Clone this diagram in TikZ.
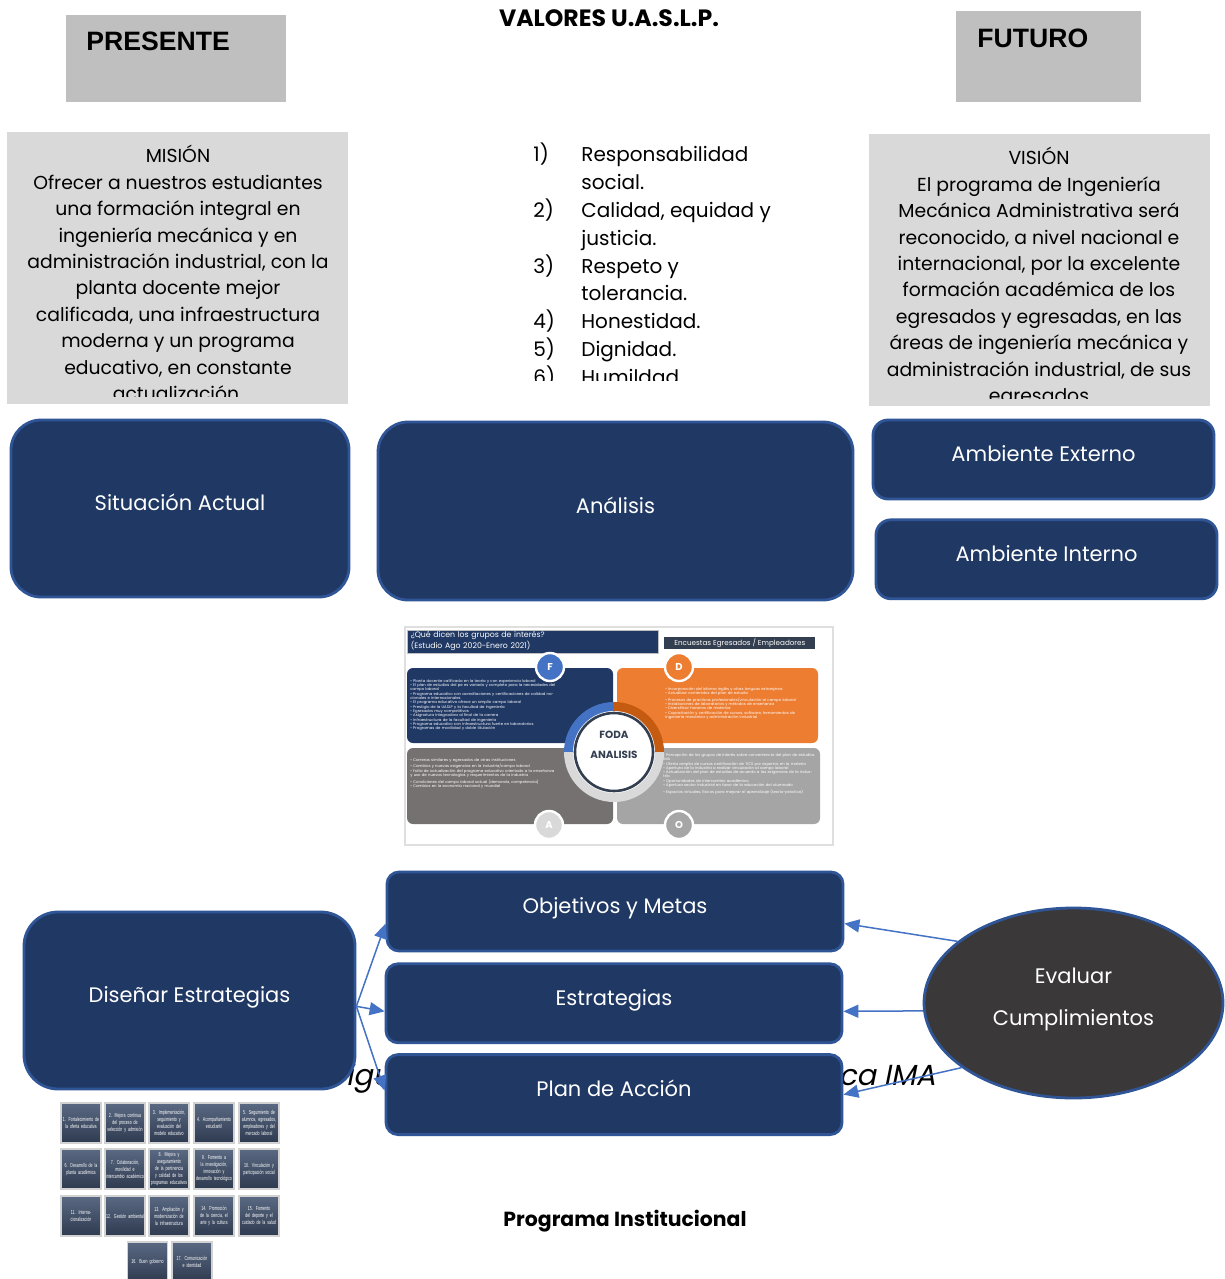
\documentclass[tikz,border=0pt]{standalone}
\usepackage{fontspec}
\setmainfont{Poppins}
\newfontfamily\arialfont{Liberation Sans}
\newfontfamily\slantfont[FakeSlant=0.2]{Poppins}
\newfontfamily\tilefont[FakeStretch=0.62]{Liberation Sans}
\usetikzlibrary{arrows.meta,positioning,shapes.geometric}
\definecolor{navyfill}{HTML}{203864}
\definecolor{navyline}{HTML}{2F5597}
\definecolor{arrowblue}{HTML}{4472C4}
\definecolor{titlegray}{HTML}{BFBFBF}
\definecolor{textgray}{HTML}{D9D9D9}
\definecolor{ovalfill}{HTML}{3A3838}
\definecolor{fodaorange}{HTML}{ED7D31}
\definecolor{fodadark}{HTML}{C55A11}
\definecolor{fodagray}{HTML}{767171}
\definecolor{fodalight}{HTML}{A5A5A5}
\definecolor{slate}{HTML}{333F50}
\definecolor{tiletop}{HTML}{5A6983}
\definecolor{tilebottom}{HTML}{2E3A4F}

\begin{document}
\begin{tikzpicture}[x=0.5pt, y=-0.5pt,
  titlebox/.style={rectangle, fill=titlegray, inner ysep=0pt, align=left,
    anchor=north west, font=\arialfont\bfseries\fontsize{13.3}{16}\selectfont},
  textbox/.style={rectangle, fill=textgray, inner sep=0pt, anchor=north west},
  bodytext/.style={anchor=north, inner sep=0pt, align=center,
    font=\fontsize{9.4}{13.2}\selectfont},
  darkbox/.style={rectangle, draw=navyline, line width=1.4pt, fill=navyfill,
    text=white, inner sep=0pt, text height=8pt, text depth=6pt,
    font=\fontsize{10.5}{13}\selectfont},
  ovalbox/.style={ellipse, draw=navyline, line width=1.4pt, fill=ovalfill,
    text=white, align=center, inner sep=0pt, text depth=6pt,
    font=\fontsize{10.5}{21}\selectfont},
  arrow/.style={-{Triangle[length=7.5pt, width=6.5pt]}, draw=arrowblue,
    line width=0.75pt},
  fodatext/.style={anchor=north west, inner sep=0pt, align=left, text=white,
    font=\fontsize{1.9}{2.15}\selectfont},
  letterdot/.style={circle, draw=white, line width=1.2pt, minimum size=14pt,
    inner sep=0pt, text=white, font=\bfseries\fontsize{5}{6}\selectfont},
  tile/.style={rectangle, draw=gray!35, line width=0.6pt, top color=tiletop,
    bottom color=tilebottom, minimum width=20pt, minimum height=20pt,
    text width=19pt, align=center, inner sep=0.5pt, text=white,
    font=\tilefont\fontsize{2.9}{3.5}\selectfont}
]
\useasboundingbox (0,0) rectangle (1225,1279);
\fill[white] (0,0) rectangle (1225,1279);

% Caption behind the boxes
\node[anchor=base west, inner sep=0pt, font=\slantfont\fontsize{14.5}{17}\selectfont]
  (caption) at (331,1085) {\makebox[302pt][s]{Figura 2. Planeación\hfill\ Estratégica IMA}};

% Headings
\node[titlebox, text width=90pt, inner xsep=10pt, text height=17.5pt,
  text depth=26pt] (presente) at (66,15) {PRESENTE};
\node[titlebox, text width=71.5pt, inner xsep=10.5pt, text height=18pt,
  text depth=27.5pt] (futuro) at (956,11) {FUTURO};
\node[anchor=base, inner sep=0pt, font=\bfseries\fontsize{11.8}{14}\selectfont]
  (valores) at (609,27) {VALORES U.A.S.L.P.};

% Mision
\node[textbox, minimum width=170.5pt, minimum height=136pt] (mision) at (7,132) {};
\begin{scope}
  \clip (7,132) rectangle (348,396);
  \node[bodytext] (misiontext) at (178,145) {MISIÓN\\
    Ofrecer a nuestros estudiantes\\
    una formación integral en\\
    ingeniería mecánica y en\\
    administración industrial, con la\\
    planta docente mejor\\
    calificada, una infraestructura\\
    moderna y un programa\\
    educativo, en constante\\
    actualización.};
\end{scope}

% Valores
\begin{scope}
  \clip (500,130) rectangle (820,380);
  \node[anchor=north west, inner sep=0pt, font=\fontsize{10}{13.9}\selectfont]
    (valoreslist) at (533,142) {\begin{tabular}{@{}p{24pt}@{}p{110pt}@{}}
    1) & Responsabilidad\newline social.\\
    2) & Calidad, equidad y\newline justicia.\\
    3) & Respeto y\newline tolerancia.\\
    4) & Honestidad.\\
    5) & Dignidad.\\
    6) & Humildad.
    \end{tabular}};
\end{scope}

% Vision
\node[textbox, minimum width=170.5pt, minimum height=136pt] (vision) at (869,134) {};
\begin{scope}
  \clip (869,134) rectangle (1210,398);
  \node[bodytext] (visiontext) at (1039,147) {VISIÓN\\
    El programa de Ingeniería\\
    Mecánica Administrativa será\\
    reconocido, a nivel nacional e\\
    internacional, por la excelente\\
    formación académica de los\\
    egresados y egresadas, en las\\
    áreas de ingeniería mecánica y\\
    administración industrial, de sus\\
    egresados};
\end{scope}

% Analysis row
\node[darkbox, rounded corners=15pt, minimum width=169pt, minimum height=88.5pt]
  (situacion) at (180,508.5) {Situación Actual};
\node[darkbox, rounded corners=15pt, minimum width=237.5pt, minimum height=89pt]
  (analisis) at (615.5,511) {Análisis};
\node[darkbox, rounded corners=7.5pt, minimum width=170.5pt, minimum height=39.5pt]
  (externo) at (1043.5,459.5) {Ambiente Externo};
\node[darkbox, rounded corners=7.5pt, minimum width=170.5pt, minimum height=39.5pt,
  below=9pt of externo, xshift=1.5pt] (interno) {Ambiente Interno};

% FODA panel
\node[rectangle, draw=gray!25, line width=1.2pt, fill=white, minimum width=214pt,
  minimum height=109pt, anchor=north west, inner sep=0pt] (foda) at (404,626) {};
\node[rectangle, fill=navyfill, draw=gray!50, line width=0.3pt, minimum width=125.5pt,
  minimum height=11.5pt, text width=122pt, inner xsep=1.5pt, inner ysep=0.6pt,
  align=left, anchor=north west, text=white, font=\fontsize{3.9}{4.6}\selectfont]
  (fodatitle) at (407,629.5) {¿Qué dicen los grupos de interés?\\(Estudio Ago 2020-Enero 2021)};
\node[rectangle, fill=slate, minimum width=75.5pt, minimum height=6pt, inner sep=0pt,
  anchor=north west, text=white, font=\fontsize{3.6}{4}\selectfont]
  (encuestas) at (664,637) {Encuestas Egresados / Empleadores};
\fill[navyfill, rounded corners=3pt] (407,668) rectangle (613,743);
\fill[fodaorange, rounded corners=3pt] (617,668) rectangle (818,743);
\fill[fodagray, rounded corners=3pt] (407,748) rectangle (613,824);
\fill[fodalight, rounded corners=3pt] (617,748) rectangle (820,824);
\fill[arrowblue] (614,752) -- ++(180:25pt) arc[start angle=180, end angle=90, radius=25pt] -- cycle;
\fill[fodadark] (614,752) -- ++(90:25pt) arc[start angle=90, end angle=0, radius=25pt] -- cycle;
\fill[gray!30] (614,752) -- ++(0:25pt) arc[start angle=0, end angle=-180, radius=25pt] -- cycle;
\fill[white] (614,752) circle[radius=20.5pt];
\draw[slate, line width=1.3pt] (614,752) circle[radius=19.5pt];
\node[text=slate, font=\bfseries\fontsize{5.2}{6}\selectfont, inner sep=0pt]
  (fodaword) at (614,735) {FODA};
\node[text=slate, font=\bfseries\fontsize{5.2}{6}\selectfont, inner sep=0pt]
  (analisisword) at (614,755) {ANALISIS};
\node[fodatext, text width=74pt] (flist) at (410,679) {%
  \textbullet\ Planta docente calificada en la teoría y con experiencia laboral\\
  \textbullet\ El plan de estudios del pe es variado y completo para la necesidades del campo laboral\\
  \textbullet\ Programa educativo con acreditaciones y certificaciones de calidad nacionales e internacionales\\
  \textbullet\ El programa educativo ofrece un amplio campo laboral\\
  \textbullet\ Prestigio de la UASLP y la facultad de ingeniería\\
  \textbullet\ Egresados muy competitivos\\
  \textbullet\ Asignatura integradora al final de la carrera\\
  \textbullet\ Infraestructura de la facultad de ingeniería\\
  \textbullet\ Programa educativo con infraestructura fuerte en laboratorios\\
  \textbullet\ Programas de movilidad y doble titulación};
\node[fodatext, text width=67pt] (dlist) at (665,687) {%
  \textbullet\ Incorporación del idioma inglés y otras lenguas extranjeras\\
  \textbullet\ Actualizar contenidos del plan de estudio\\
  \textbullet\ Procesos de practicas profesionales/vinculación al campo laboral\\
  \textbullet\ Instalaciones de laboratorios y métodos de enseñanza\\
  \textbullet\ Diversificar horarios de materias\\
  \textbullet\ Capacitación y certificación de cursos, software, herramientas de ingeniería mecánica y administración industrial};
\node[fodatext, text width=72pt] (alist) at (410,758) {%
  \textbullet\ Carreras similares y egresados de otras instituciones\\
  \textbullet\ Cambios y nuevas exigencias en la industria/campo laboral\\
  \textbullet\ Falta de actualización del programa educativo orientado a la enseñanza y uso de nuevas tecnologías y requerimientos de la industria\\
  \textbullet\ Condiciones del campo laboral actual (demanda, competencia)\\
  \textbullet\ Cambios en la economía nacional y mundial};
\node[fodatext, text width=76pt] (olist) at (663,753) {%
  \textbullet\ Percepción de los grupos de interés sobre conveniencia del plan de estudios IMA\\
  \textbullet\ Oferta amplia de cursos certificación de TICS por expertos en la materia\\
  \textbullet\ Apertura de la industria a realizar vinculación al campo laboral\\
  \textbullet\ Actualización del plan de estudios de acuerdo a las exigencias de la industria\\
  \textbullet\ Oportunidades de intercambio académico\\
  \textbullet\ Apertura sector industrial en favor de la educación del alumnado\\
  \textbullet\ Espacios virtuales, físicos para mejorar el aprendizaje (teoría-práctica)};
\node[letterdot, fill=arrowblue] (fdot) at (550,667) {F};
\node[letterdot, fill=fodaorange] (ddot) at (679,667) {D};
\node[letterdot, fill=gray!30] (adot) at (549,825) {A};
\node[letterdot, fill=gray!70] (odot) at (679,825) {O};

% Strategy row
\node[darkbox, rounded corners=17pt, minimum width=165.5pt, minimum height=88.5pt]
  (disenar) at (189.5,1000.5) {Diseñar Estrategias};
\node[darkbox, rounded corners=6pt, minimum width=228pt, minimum height=39.5pt]
  (objetivos) at (615,911.5) {Objetivos y Metas};
\node[darkbox, rounded corners=6pt, minimum width=228pt, minimum height=39.5pt,
  below=5pt of objetivos, xshift=-0.5pt] (estrategias) {Estrategias};
\node[darkbox, rounded corners=6pt, minimum width=228pt, minimum height=40pt,
  below=4.5pt of estrategias] (plan) {Plan de Acción};
\node[ovalbox, minimum width=149.5pt, minimum height=95pt]
  (evaluar) at (1073.5,1003) {Evaluar\\Cumplimientos};

% Arrows
\draw[arrow] (disenar.-2) -- (objetivos.183.4);
\draw[arrow] (disenar.-2) -- (estrategias.182.6);
\draw[arrow] (disenar.-2) -- (plan.179);
\draw[arrow] (evaluar.152) -- (objetivos.-3.4);
\draw[arrow] (evaluar.183) -- (estrategias.-2.6);
\draw[arrow] (evaluar.210) -- (plan.east);

% Program tiles
\node[tile] (t1) at (81,1123) {1. Fortalecimiento de la oferta educativa};
\node[tile] (t2) at (125,1123) {2. Mejora continua del proceso de selección y admisión};
\node[tile] (t3) at (169,1123) {3. Implementación, seguimiento y evaluación del modelo educativo};
\node[tile] (t4) at (214,1123) {4. Acompañamiento estudiantil};
\node[tile] (t5) at (259,1123) {5. Seguimiento de alumnos, egresados, empleadores y del mercado laboral};
\node[tile] (t6) at (81,1169) {6. Desarrollo de la planta académica};
\node[tile] (t7) at (125,1169) {7. Colaboración, movilidad e intercambio académico};
\node[tile] (t8) at (169,1169) {8. Mejora y aseguramiento de la pertinencia y calidad de los programas educativos};
\node[tile] (t9) at (214,1169) {9. Fomento a la investigación, innovación y desarrollo tecnológico};
\node[tile] (t10) at (259,1169) {10. Vinculación y participación social};
\node[tile] (t11) at (81,1216) {11. Internacionalización};
\node[tile] (t12) at (125,1216) {12. Gestión ambiental};
\node[tile] (t13) at (169,1216) {13. Ampliación y modernización de la infraestructura};
\node[tile] (t14) at (214,1216) {14. Promoción de la ciencia, el arte y la cultura};
\node[tile] (t15) at (259,1216) {15. Fomento del deporte y el cuidado de la salud};
\node[tile] (t16) at (147.5,1262) {16. Buen gobierno};
\node[tile] (t17) at (192,1262) {17. Comunicación e identidad};

\node[anchor=base, inner sep=0pt, font=\bfseries\fontsize{10.2}{12}\selectfont]
  (programa) at (625,1226) {Programa Institucional};
\end{tikzpicture}
\end{document}
